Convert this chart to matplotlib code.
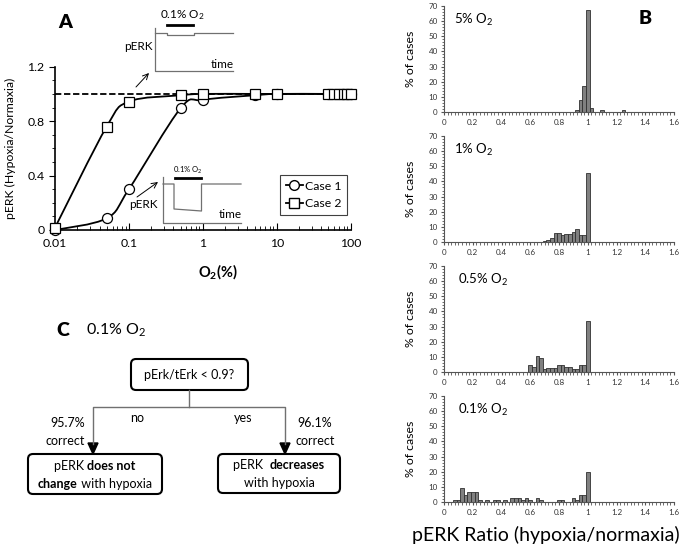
import numpy as np
import matplotlib
matplotlib.use('agg')
import matplotlib.pyplot as plt
from matplotlib.path import Path
from matplotlib.patches import PathPatch, FancyBboxPatch, Polygon
from matplotlib.lines import Line2D
from matplotlib.ticker import MultipleLocator, LogLocator, NullFormatter

plt.rcParams['font.family'] = ['Lato', 'DejaVu Sans']
plt.rcParams['mathtext.fontset'] = 'custom'
plt.rcParams['mathtext.rm'] = 'Lato'
plt.rcParams['mathtext.it'] = 'Lato:italic'
plt.rcParams['mathtext.bf'] = 'Lato:bold'

# ---- panel A data: pERK ratio vs O2 ----
o2_case1 = [0.01, 0.05, 0.1, 0.5, 1, 5, 10, 50, 100]
perk_case1 = [0.0, 0.086, 0.30, 0.895, 0.956, 0.99, 1.0, 1.0, 1.0]
o2_case2 = [0.01, 0.05, 0.1, 0.5, 1, 5, 10, 50, 60, 70, 80, 90, 100]
perk_case2 = [0.017, 0.76, 0.944, 0.99, 1.0, 1.0, 1.0, 1.0, 1.0, 1.0, 1.0, 1.0, 1.0]

# ---- panel B data: histograms (bin centres, % of cases) ----
bin_w = 0.025
h5_x = [0.925, 0.95, 0.975, 1.0, 1.025, 1.1, 1.25]
h5_y = [1.5, 8, 17, 67, 3, 1.5, 1.5]
h1_x = [0.575, 0.6, 0.65, 0.675, 0.7, 0.725, 0.75, 0.775, 0.8, 0.825, 0.85,
        0.875, 0.9, 0.925, 0.95, 0.975, 1.0, 1.025, 1.05, 1.125, 1.15, 1.25]
h1_y = [0.5, 0.5, 0.5, 0.5, 1, 1.5, 3, 6, 6, 5, 5.5,
        5.5, 6.5, 9, 4.5, 5, 45.5, 0.5, 0.5, 0.5, 0.5, 0.5]
h05_x = [0.6, 0.625, 0.65, 0.675, 0.7, 0.725, 0.75, 0.775, 0.8, 0.825, 0.85,
         0.875, 0.9, 0.925, 0.95, 0.975, 1.0]
h05_y = [5, 3.5, 11, 9.5, 2, 3, 3, 3, 5, 5, 3.5, 3.5, 2, 2, 5, 5, 34]
h01_x = [0.075, 0.1, 0.125, 0.15, 0.175, 0.2, 0.225, 0.25, 0.3, 0.35, 0.375,
         0.425, 0.475, 0.5, 0.525, 0.55, 0.575, 0.6, 0.65, 0.675, 0.8, 0.825,
         0.9, 0.925, 0.95, 0.975, 1.0]
h01_y = [1.5, 1.5, 9.5, 5, 6.5, 6.5, 6.5, 1.5, 1.5, 1.5, 1.5,
         1.5, 3, 3, 3, 1.5, 3, 1.5, 3, 1.5, 1.5, 1.5,
         3, 1.5, 4.5, 4.5, 20]
hist_labels = [r'5% O$_2$', r'1% O$_2$', r'0.5% O$_2$', r'0.1% O$_2$']
hist_x = [h5_x, h1_x, h05_x, h01_x]
hist_y = [h5_y, h1_y, h05_y, h01_y]

W, H = 685, 553
fig = plt.figure(figsize=(W / 100, H / 100), dpi=100)


def fx(px):
    return px / W


def fy(py):
    return 1 - py / H


def smooth_path(xs, ys):
    # Catmull-Rom style smoothing in log-x space (like a spreadsheet smoothed line)
    pts = np.column_stack([np.log10(xs), ys])
    n = len(pts)
    verts = [pts[0]]
    codes = [Path.MOVETO]
    for i in range(n - 1):
        p0 = pts[i - 1] if i > 0 else pts[i]
        p1, p2 = pts[i], pts[i + 1]
        p3 = pts[i + 2] if i + 2 < n else pts[i + 1]
        verts += [p1 + (p2 - p0) / 6, p2 - (p3 - p1) / 6, p2]
        codes += [Path.CURVE4] * 3
    v = np.array(verts)
    v[:, 0] = 10 ** v[:, 0]
    return Path(v, codes)


# ================= panel A =================
axA = fig.add_axes([fx(55), fy(230), fx(295.7), 163.3 / H])
axA.set_xscale('log')
axA.set_xlim(0.01, 100)
axA.set_ylim(0, 1.2)
axA.axhline(1.0, color='black', lw=1.3, ls=(0, (3.5, 1.5)), zorder=1)
for xs, ys, mk in [(o2_case1, perk_case1, 'o'), (o2_case2, perk_case2, 's')]:
    axA.add_patch(PathPatch(smooth_path(xs, ys), fill=False, ec='black', lw=1.3, zorder=2))
    axA.plot(xs, ys, ls='none', marker=mk, ms=7.2, mfc='white', mec='black', mew=0.9,
             zorder=3, clip_on=False)
for s in ['top', 'right']:
    axA.spines[s].set_visible(False)
for s in ['left', 'bottom']:
    axA.spines[s].set_linewidth(1.2)
axA.set_yticks([0, 0.4, 0.8, 1.2])
axA.set_yticklabels(['0', '0.4', '0.8', '1.2'])
axA.yaxis.set_minor_locator(MultipleLocator(0.1))
axA.set_xticks([0.01, 0.1, 1, 10, 100])
axA.set_xticklabels(['0.01', '0.1', '1', '10', '100'])
axA.xaxis.set_minor_locator(LogLocator(base=10, subs=np.arange(2, 10)))
axA.xaxis.set_minor_formatter(NullFormatter())
axA.tick_params(axis='x', which='both', direction='in', labelsize=8.8, pad=6)
axA.tick_params(axis='x', which='major', length=5)
axA.tick_params(axis='x', which='minor', length=3)
axA.tick_params(axis='y', which='major', direction='out', length=4, labelsize=8.8)
axA.tick_params(axis='y', which='minor', direction='out', length=2.5)
handles = [Line2D([], [], color='black', lw=1.3, marker='o', ms=7, mfc='white', mec='black'),
           Line2D([], [], color='black', lw=1.3, marker='s', ms=7, mfc='white', mec='black')]
leg = axA.legend(handles, ['Case 1', 'Case 2'], loc='lower right',
                 bbox_to_anchor=(0.9885, 0.092), borderaxespad=0, fontsize=8.8,
                 handlelength=1.4, handletextpad=0.2, fancybox=False, framealpha=1,
                 borderpad=0.45, labelspacing=0.55)
leg.get_frame().set_edgecolor('#404040')
leg.get_frame().set_linewidth(0.8)

# ================= panel B =================
for i in range(4):
    y0 = 112.3 + 130 * i
    ax = fig.add_axes([fx(444), fy(y0), fx(230), 106.6 / H])
    ax.bar(hist_x[i], hist_y[i], width=bin_w, color='#808080', edgecolor='#303030', lw=0.6)
    ax.set_xlim(0, 1.6)
    ax.set_ylim(0, 70)
    ax.set_xticks(np.arange(0, 1.61, 0.2))
    ax.set_xticklabels(['0', '0.2', '0.4', '0.6', '0.8', '1', '1.2', '1.4', '1.6'])
    ax.xaxis.set_minor_locator(MultipleLocator(0.025))
    ax.set_yticks(np.arange(0, 71, 10))
    ax.yaxis.set_minor_locator(MultipleLocator(2))
    for s in ['top', 'right']:
        ax.spines[s].set_visible(False)
    for s in ['left', 'bottom']:
        ax.spines[s].set_color('#555555')
        ax.spines[s].set_linewidth(0.8)
    ax.tick_params(which='both', direction='out', colors='#555555', labelsize=5.8,
                   labelcolor='#333333', pad=2)
    ax.tick_params(which='major', length=2.5)
    ax.tick_params(which='minor', length=1.8)
    ax.text(0.045 if i < 2 else 0.06, 0.87, hist_labels[i], transform=ax.transAxes,
            fontsize=9.5, va='center', ha='left')
    fig.text(fx(410), fy(y0 - 53), '% of cases', rotation=90, fontsize=8.8,
             ha='center', va='center')
fig.text(fx(645), fy(18), 'B', fontsize=14, fontweight='heavy', ha='center', va='center')
fig.text(fx(546), fy(535), 'pERK Ratio (hypoxia/normaxia)', fontsize=14,
         family=['Lato', 'DejaVu Sans'], ha='center', va='center')

# ================= overlay: labels, insets, panel C =================
ov = fig.add_axes([0, 0, 1, 1], facecolor='none')
ov.set_xlim(0, W)
ov.set_ylim(H, 0)
ov.axis('off')

ov.text(65, 22, 'A', fontsize=14, fontweight='heavy', ha='center', va='center')
ov.text(218, 272, r'O$_\mathbf{2}$(%)', fontsize=10.5, fontweight='bold', ha='center', va='center')
ov.text(10, 148, 'pERK (Hypoxia/Normaxia)', rotation=90, fontsize=8.8, ha='center', va='center')

# upper inset sketch
ov.plot([155, 155, 233], [28, 71, 71], color='#707070', lw=0.9)
ov.plot([155, 167, 167, 194, 194, 233], [33.3, 33.3, 35, 35, 33.3, 33.3], color='#707070', lw=0.9)
ov.plot([167, 193], [25, 25], color='black', lw=2)
ov.text(182, 15, r'0.1% O$_2$', fontsize=8.5, ha='center', va='center')
ov.text(138, 47, 'pERK', fontsize=8.5, ha='center', va='center')
ov.text(222, 65, 'time', fontsize=8.5, ha='center', va='center')
ov.annotate('', xy=(149, 73), xytext=(136, 87),
            arrowprops=dict(arrowstyle='->', color='black', lw=0.7, shrinkA=0, shrinkB=0))

# lower inset sketch
ov.plot([163, 163, 241], [177, 223, 223], color='#707070', lw=0.9)
ov.plot([163, 174, 174, 201.5, 201.5, 241], [184, 184, 209, 211, 184, 184], color='#707070', lw=0.9)
ov.plot([175, 201.5], [177.5, 177.5], color='black', lw=2)
ov.text(188, 170, r'0.1% O$_2$', fontsize=5.5, ha='center', va='center')
ov.text(143, 204, 'pERK', fontsize=8.5, ha='center', va='center')
ov.text(230, 215, 'time', fontsize=8.5, ha='center', va='center')
ov.annotate('', xy=(158, 182), xytext=(137, 197),
            arrowprops=dict(arrowstyle='->', color='black', lw=0.7, shrinkA=0, shrinkB=0))

# panel C decision tree
ov.text(63, 330, 'C', fontsize=14, fontweight='heavy', ha='center', va='center')
ov.text(86, 330, r'0.1% O$_2$', fontsize=11.5, ha='left', va='center')


def box(x0, y0, x1, y1):
    ov.add_patch(FancyBboxPatch((x0, y0), x1 - x0, y1 - y0,
                                boxstyle='round,pad=0,rounding_size=5',
                                fc='white', ec='black', lw=1.5))


box(131, 359, 248, 390)
box(28, 454, 162, 494)
box(218, 454, 340, 493)
ov.text(189.5, 375, 'pErk/tErk < 0.9?', fontsize=9, ha='center', va='center')
ov.plot([189, 189], [390, 407], color='#707070', lw=1)
ov.plot([93, 93, 285, 285], [444, 407, 407, 444], color='#707070', lw=1)
for ax_x in (93, 285):
    ov.add_patch(Polygon([[ax_x - 5, 443], [ax_x + 5, 443], [ax_x, 454]],
                         closed=True, fc='black', ec='black'))
ov.text(137, 418, 'no', fontsize=9, ha='center', va='center')
ov.text(243, 418, 'yes', fontsize=9, ha='center', va='center')
ov.text(85, 423, '95.7%', fontsize=9, ha='right', va='center')
ov.text(85, 441, 'correct', fontsize=9, ha='right', va='center')
ov.text(315, 423, '96.1%', fontsize=9, ha='center', va='center')
ov.text(315, 441, 'correct', fontsize=9, ha='center', va='center')

renderer = fig.canvas.get_renderer()


def rich_line(parts, cx, cy, size=9):
    # place normal/bold text pieces side by side, centred on cx
    texts = []
    widths = []
    for s, w in parts:
        t = ov.text(0, cy, s, fontsize=size, fontweight=w, ha='left', va='center')
        bb = t.get_window_extent(renderer=renderer)
        texts.append(t)
        widths.append(bb.width)
    x = cx - sum(widths) / 2
    for t, wd in zip(texts, widths):
        t.set_x(x)
        x += wd


rich_line([('pERK ', 'normal'), ('does not', 'bold')], 95, 466)
rich_line([('change', 'bold'), (' with hypoxia', 'normal')], 95, 484)
rich_line([('pERK  ', 'normal'), ('decreases', 'bold')], 279, 465)
rich_line([('with hypoxia', 'normal')], 279, 483)

fig.savefig('out.png', dpi=100)
plt.close()
